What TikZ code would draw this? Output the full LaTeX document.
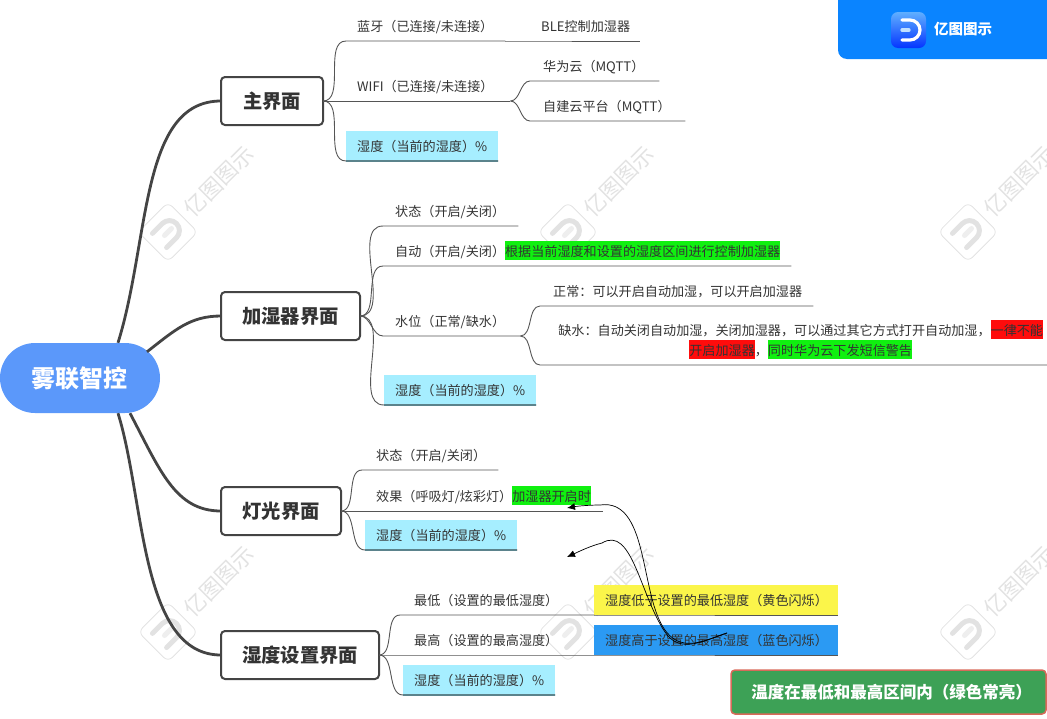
\documentclass[tikz,border=0pt]{standalone}
\usepackage{fontspec}
\setmainfont{Noto Sans CJK SC}
\definecolor{rootblue}{HTML}{5B98FA}
\definecolor{bar}{HTML}{0A84FF}
\definecolor{ink}{HTML}{333333}
\definecolor{trunk}{HTML}{444444}
\definecolor{twig}{HTML}{555555}
\definecolor{cyanfill}{HTML}{A6EEFF}
\definecolor{hlgreen}{HTML}{10F010}
\definecolor{hlred}{HTML}{FF0C0C}
\definecolor{yellowfill}{HTML}{FBF54A}
\definecolor{bluefill}{HTML}{2B9AF3}
\definecolor{okgreen}{HTML}{3DA156}
\definecolor{okedge}{HTML}{D86A5A}
\definecolor{wm}{HTML}{E2E2E2}
\definecolor{wmlight}{HTML}{EEEEEE}
\newcommand\hl[2]{{\setlength\fboxsep{0pt}\colorbox{#1}{\rule[-3.5pt]{0pt}{19.2pt}#2}}}
\newcommand\lfstrut{\rule[-4pt]{0pt}{19.5pt}}
% name, x0, xend, yline, pad, extra style, text
\newcommand\LF[7]{%
  \pgfmathsetmacro\lfw{#3-#2}%
  \node[leaf,text width=\lfw pt,#6] (#1) at (#2,#4) {\hspace*{#5pt}\lfstrut #7};}
\usetikzlibrary{arrows.meta}
\tikzset{
  x=1pt,y=-1pt,
  leaf/.style={anchor=south west,inner xsep=0pt,inner ysep=0pt,minimum height=30pt,align=left,
    text=ink,font=\fontsize{13.1}{20}\selectfont},
  topic/.style={draw=trunk,line width=2pt,rounded corners=4pt,fill=white,minimum height=48pt,inner sep=0pt,outer sep=0pt,
    anchor=west,text=ink,font=\fontsize{19.3}{23}\selectfont\bfseries},
  trunkline/.style={draw=trunk,line width=2.8pt},
  twigline/.style={draw=twig,line width=.9pt},
  shadowline/.style={draw=black!45!cyanfill,line width=1.4pt},
  cross/.style={draw=black,line width=.7pt,-{Latex[length=8pt,width=7pt]}},
}
\newcommand\Twig[2]{\draw[twigline] (#1) to[out=0,in=180,looseness=.9] (#2.south west) -- (#2.south east);}
\newcommand\Mark[3]{%
  \begin{scope}[shift={(#1,#2)},rotate=45]
    \draw[wm,line width=.8pt,rounded corners=6pt] (-21,-21) rectangle (21,21);
    \draw[wmlight,line width=5pt,line cap=round] (-5,0) -- (5,0);
    \draw[wm,line width=5pt,line cap=round] (-12,-10) -- (2,-10) arc[start angle=-90,end angle=90,radius=10] -- (-12,10);
    \node[transform shape,text=wm,font=\fontsize{22}{24}\selectfont,inner sep=0pt] (#3) at (72,0) {亿图图示};
  \end{scope}}
\begin{document}
\begin{tikzpicture}
\useasboundingbox (0,0) rectangle (1047,718);
% watermarks
\Mark{168}{232}{wa}\Mark{568}{232}{wb}\Mark{968}{232}{wc}
\Mark{168}{632}{wd}\Mark{568}{632}{we}\Mark{968}{632}{wf}
% brand badge
\fill[bar,rounded corners=9pt] (838,-12) rectangle (1060,59);
\shade[left color=bar!65!white,right color=blue!60!bar,rounded corners=7pt,shading angle=0] (891,12) rectangle (926,48);
\draw[white,line width=3.2pt,line cap=round] (902,20) -- (910,20) arc[start angle=-90,end angle=90,radius=10] -- (902,40);
\draw[white!75!bar,line width=3.2pt,line cap=round] (902,30) -- (909,30);
\node[text=white,font=\fontsize{14.5}{16}\selectfont\bfseries,anchor=west,inner sep=0pt] (brand) at (934,29) {亿图图示};
% root and topics
\node[fill=rootblue,rounded corners=35pt,minimum width=160pt,minimum height=70pt,inner sep=0pt,
  text=white,font=\fontsize{24}{28}\selectfont\bfseries] (root) at (80,378) {\hspace*{-1pt}雾联智控};
\node[topic,minimum width=102pt] (main) at (221,101) {主界面};
\node[topic,minimum width=139pt] (humid) at (221,316) {加湿器界面};
\node[topic,minimum width=120pt] (light) at (221,511) {灯光界面};
\node[topic,minimum width=158pt] (setp) at (221,655) {湿度设置界面};
\draw[trunkline] ([xshift=38pt]root.north) .. controls (150,240) and (140,101) .. (main.west);
\draw[trunkline] ([xshift=67pt,yshift=-9pt]root.north) .. controls (175,330) and (190,316) .. (humid.west);
\draw[trunkline] ([xshift=50pt]root.south) .. controls (160,470) and (175,511) .. (light.west);
\draw[trunkline] ([xshift=38pt]root.south) .. controls (145,500) and (140,655) .. (setp.west);
% main screen
\LF{bt}{346}{505}{41}{11}{}{蓝牙（已连接/未连接）}
\LF{ble}{505}{640}{41}{36}{}{BLE控制加湿器}
\LF{wifi}{323}{510}{101}{34}{}{WIFI（已连接/未连接）}
\LF{hw}{530}{659}{81}{13}{}{华为云（MQTT）}
\LF{own}{530}{685}{121}{13}{}{自建云平台（MQTT）}
\LF{mh}{346}{498}{161}{11}{fill=cyanfill}{湿度（当前的湿度）\%}
\Twig{main.east}{bt}
\Twig{bt.south east}{ble}
\Twig{wifi.south east}{hw}
\Twig{wifi.south east}{own}
\draw[twigline] (main.east) -- (wifi.south east);
\Twig{main.east}{mh}
% humidifier screen
\LF{hs}{383}{518}{226}{12}{}{状态（开启/关闭）}
\LF{ha}{383}{791}{266}{12}{}{自动（开启/关闭）\hl{hlgreen}{根据当前湿度和设置的湿度区间进行控制加湿器}}
\LF{hw2}{383}{520}{336}{12}{}{水位（正常/缺水）}
\LF{hn}{540}{813}{306}{13}{}{正常：可以开启自动加湿，可以开启加湿器}
\node[leaf,text width=507pt,align=center,minimum height=50pt] (hl2) at (540,365) {\hspace*{14pt}\lfstrut 缺水：自动关闭自动加湿，关闭加湿器，可以通过其它方式打开自动加湿，\hl{hlred}{一律不能}\\\hspace*{14pt}\hl{hlred}{开启加湿器}，\hl{hlgreen}{同时华为云下发短信警告}};
\LF{hh}{384}{536}{405}{11}{fill=cyanfill}{湿度（当前的湿度）\%}
\Twig{humid.east}{hs}
\Twig{humid.east}{ha}
\Twig{humid.east}{hw2}
\Twig{hw2.south east}{hn}
\Twig{hw2.south east}{hl2}
\Twig{humid.east}{hh}
% light screen
\LF{ls}{362}{498}{470}{14}{}{状态（开启/关闭）}
\LF{le}{341}{603}{511}{35}{}{效果（呼吸灯/炫彩灯）\hl{hlgreen}{加湿器开启时}}
\LF{lh}{365}{517}{550}{11}{fill=cyanfill}{湿度（当前的湿度）\%}
\Twig{light.east}{ls}
\draw[twigline] (light.east) -- (le.south east);
\Twig{light.east}{lh}
% settings screen
\LF{sl}{400}{594}{615}{14}{}{最低（设置的最低湿度）}
\LF{sy}{594}{838}{615}{11}{fill=yellowfill}{湿度低于设置的最低湿度（黄色闪烁）}
\LF{sm}{379}{594}{655}{35}{}{最高（设置的最高湿度）}
\LF{sb}{594}{838}{655}{11}{fill=bluefill}{湿度高于设置的最高湿度（蓝色闪烁）}
\LF{sh}{403}{555}{695}{11}{fill=cyanfill}{湿度（当前的湿度）\%}
\Twig{setp.east}{sl}
\draw[twigline] (sl.south east) -- (sy.south west) -- (sy.south east);
\draw[twigline] (setp.east) -- (sb.south west) -- (sb.south east);
\Twig{setp.east}{sh}
\draw[shadowline] (mh.south west) -- (mh.south east);
\draw[shadowline] (hh.south west) -- (hh.south east);
\draw[shadowline] (lh.south west) -- (lh.south east);
\draw[shadowline] (sh.south west) -- (sh.south east);
% in-range box
\node[draw=okedge,line width=1.5pt,fill=okgreen,rounded corners=4pt,minimum width=315pt,minimum height=44pt,inner sep=0pt,
  text=white,font=\fontsize{16.5}{20}\selectfont\bfseries] (ok) at (888.5,692) {\hspace*{6pt}温度在最低和最高区间内（绿色常亮）};
% crossing arrows
\coordinate (src) at (727,633);
\coordinate (tipa) at (567,508);
\coordinate (tipb) at (567,557);
\draw[cross] (src) .. controls (705,640) and (680,655) .. (663,627) .. controls (640,590) and (648,498) .. (600,505) .. controls (590,505) and (578,506) .. (tipa);
\draw[cross] (src) .. controls (705,640) and (680,655) .. (665,632) .. controls (640,595) and (632,525) .. (602,543) .. controls (590,546) and (578,552) .. (tipb);
\end{tikzpicture}
\end{document}
